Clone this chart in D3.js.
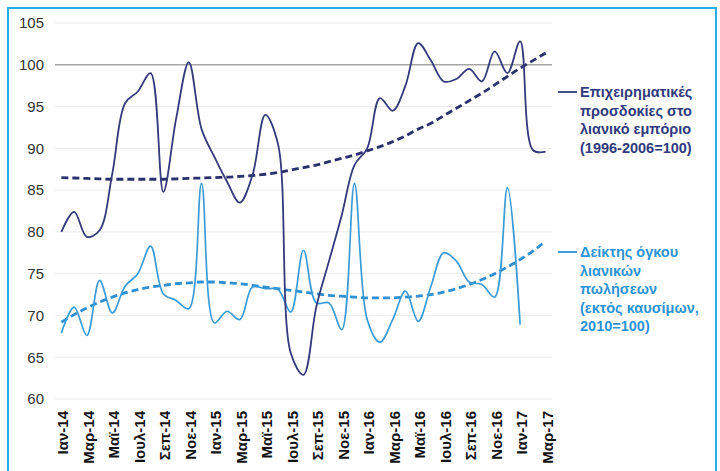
<!DOCTYPE html>
<html>
<head>
<meta charset="utf-8">
<script src="https://cdn.jsdelivr.net/npm/d3@7"></script>
<style>
  body { margin: 0; background: #fff; }
  svg text { font-family: "Liberation Sans", Arial, sans-serif; }
</style>
</head>
<body>
<div id="chart"></div>
<script>
// month names and years for the categories
var monthNames = ["Ιαν","Φεβ","Μαρ","Απρ","Μαϊ","Ιουν","Ιουλ","Αυγ","Σεπ","Οκτ","Νοε","Δεκ"];
var years = ["14","15","16","17"];
var months = [];
years.forEach(function(y){ monthNames.forEach(function(m){ months.push(m + "-" + y); }); });
months = months.slice(0, 39); // Ιαν-14 .. Μαρ-17

// business expectations in retail trade (1996-2006=100)
var expectations = [80.0, 82.4, 79.4, 80.2, 87.0, 95.4, 96.8, 99.0, 84.8, 93.5, 100.3, 92.3,
  89.0, 86.0, 83.5, 86.8, 94.0, 90.5, 65.5, 62.9, 71.0, 76.5, 82.0, 88.0,
  90.0, 96.0, 94.5, 97.5, 102.6, 100.5, 98.0, 98.3, 99.5, 98.0, 101.6, 99.0,
  102.8, 89.8, 89.6];
var expectationsTrend = [86.5, 86.45, 86.4, 86.35, 86.3, 86.3, 86.3, 86.3, 86.3, 86.35, 86.4, 86.45,
  86.5, 86.55, 86.65, 86.75, 86.9, 87.1, 87.4, 87.7, 88.0, 88.4, 88.8, 89.2,
  89.7, 90.2, 90.8, 91.5, 92.3, 93.0, 93.9, 94.8, 95.7, 96.6, 97.6, 98.6,
  99.6, 100.5, 101.4];

// retail volume index, excl. fuel (2010=100)
var volume = [67.9, 71.0, 67.6, 74.2, 70.3, 73.5, 75.0, 78.3, 72.6, 71.8, 70.8, 85.8,
  69.1, 70.5, 69.5, 73.4, 73.2, 73.1, 70.4, 77.8, 71.5, 71.5, 68.3, 85.8,
  69.5, 66.8, 69.5, 72.9, 69.3, 73.5, 77.5, 76.5, 74.0, 73.7, 72.2, 85.3,
  68.9];
var volumeTrend = [69.2, 70.1, 70.9, 71.6, 72.2, 72.7, 73.1, 73.4, 73.6, 73.8, 73.9, 74.0,
  74.0, 73.9, 73.8, 73.6, 73.4, 73.2, 73.0, 72.8, 72.6, 72.4, 72.3, 72.2,
  72.1, 72.1, 72.1, 72.2, 72.3, 72.5, 72.8, 73.2, 73.7, 74.3, 75.0, 75.8,
  76.7, 77.7, 78.9];

var yTicks = [60, 65, 70, 75, 80, 85, 90, 95, 100, 105];

var legend1 = ["Επιχειρηματικές", "προσδοκίες στο", "λιανικό εμπόριο", "(1996-2006=100)"];
var legend2 = ["Δείκτης όγκου", "λιανικών", "πωλήσεων", "(εκτός καυσίμων,", "2010=100)"];

var W = 720, H = 471;
var darkCol = "#33397a", lightCol = "#3b9bd8";
var darkTrendCol = "#2b2f6c", lightTrendCol = "#2e8fd2";

var svg = d3.select("#chart").append("svg").attr("width", W).attr("height", H);

// frame
svg.append("rect").attr("x", 8).attr("y", 8).attr("width", 708).attr("height", 480)
  .attr("fill", "none").attr("stroke", "#22b0e6").attr("stroke-width", 2);

var x = d3.scalePoint().domain(months).range([55, 552]).padding(0.5);
var y = d3.scaleLinear().domain([60, 105]).range([399, 23]);

// gridlines
svg.append("g").selectAll("line").data(yTicks).enter().append("line")
  .attr("x1", 55).attr("x2", 552)
  .attr("y1", function(d){ return y(d); }).attr("y2", function(d){ return y(d); })
  .attr("stroke", function(d){ return d === 100 ? "#a6a6a6" : "#ebebeb"; })
  .attr("stroke-width", function(d){ return d === 100 ? 1.5 : 1; });

// y axis labels
var yAxis = svg.append("g").attr("transform", "translate(44,0)")
  .call(d3.axisLeft(y).tickValues(yTicks).tickSize(0).tickPadding(0));
yAxis.select(".domain").remove();
yAxis.selectAll("text").style("font-size", "15px").attr("fill", "#333")
  .style("font-family", "'Liberation Sans', Arial, sans-serif");

// x axis labels (every second month)
var xAxis = svg.append("g").attr("transform", "translate(1,411)")
  .call(d3.axisBottom(x).tickValues(months.filter(function(d, i){ return i % 2 === 0; })).tickSize(0));
xAxis.select(".domain").remove();
xAxis.selectAll("text")
  .attr("transform", "rotate(-90)")
  .attr("x", 0).attr("y", 0).attr("dx", "0").attr("dy", "0.36em")
  .style("text-anchor", "end").style("font-size", "15px").style("font-weight", "bold")
  .attr("fill", "#111")
  .style("font-family", "'Liberation Sans', Arial, sans-serif");

function lineFor(vals, curve) {
  return d3.line()
    .x(function(d, i){ return x(months[i]); })
    .y(function(d){ return y(d); })
    .curve(curve)(vals);
}

// trend lines
svg.append("path").attr("d", lineFor(volumeTrend, d3.curveMonotoneX))
  .attr("fill", "none").attr("stroke", lightTrendCol).attr("stroke-width", 2.8)
  .attr("stroke-dasharray", "7,4");
svg.append("path").attr("d", lineFor(expectationsTrend, d3.curveMonotoneX))
  .attr("fill", "none").attr("stroke", darkTrendCol).attr("stroke-width", 2.8)
  .attr("stroke-dasharray", "7,4");

// data lines
svg.append("path").attr("d", lineFor(volume, d3.curveCatmullRom.alpha(0.5)))
  .attr("fill", "none").attr("stroke", lightCol).attr("stroke-width", 1.7);
svg.append("path").attr("d", lineFor(expectations, d3.curveCatmullRom.alpha(0.5)))
  .attr("fill", "none").attr("stroke", darkCol).attr("stroke-width", 1.8);

// legend
function drawLegend(lines, top, col) {
  var g = svg.append("g");
  g.append("line").attr("x1", 558).attr("x2", 577).attr("y1", top).attr("y2", top)
    .attr("stroke", col).attr("stroke-width", 1.8);
  g.selectAll("text").data(lines).enter().append("text")
    .attr("x", 580).attr("y", function(d, i){ return top + 5 + i * 18.5; })
    .text(function(d){ return d; })
    .attr("fill", col).style("font-size", "14.5px").style("font-weight", "bold");
}
drawLegend(legend1, 92, "#303a7c");
drawLegend(legend2, 252, "#2b93d6");
</script>
</body>
</html>
